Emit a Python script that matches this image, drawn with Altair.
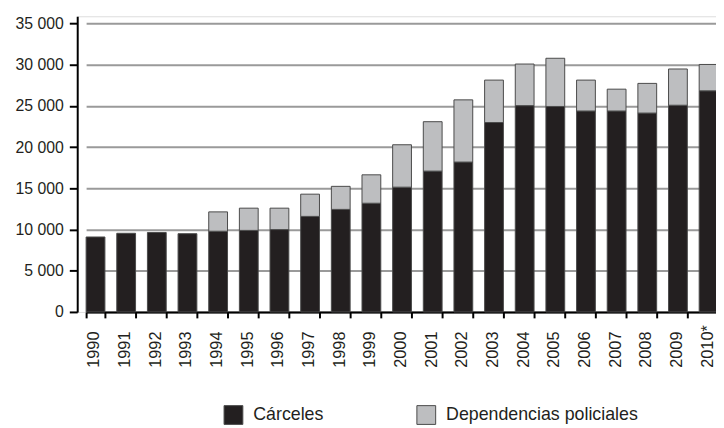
import altair as alt
import pandas as pd

years = ["1990", "1991", "1992", "1993", "1994", "1995", "1996", "1997", "1998", "1999",
         "2000", "2001", "2002", "2003", "2004", "2005", "2006", "2007", "2008", "2009", "2010*"]
carceles = [9100, 9550, 9650, 9500, 9800, 9900, 10000, 11600, 12450, 13200,
            15150, 17100, 18200, 23000, 25050, 24950, 24400, 24400, 24150, 25100, 26850]
policia = [0, 0, 0, 0, 2350, 2700, 2600, 2700, 2800, 3450,
           5150, 6000, 7550, 5150, 5050, 5850, 3750, 2650, 3600, 4400, 3200]
series = ["Cárceles", "Dependencias policiales"]
y_ticks = [0, 5000, 10000, 15000, 20000, 25000, 30000, 35000]

rows = []
for y, c, p in zip(years, carceles, policia):
    rows.append({"anio": y, "serie": series[0], "valor": c, "orden": 0})
    if p > 0:
        rows.append({"anio": y, "serie": series[1], "valor": p, "orden": 1})
df = pd.DataFrame(rows)

FONT = "Liberation Sans"

bars = alt.Chart(df).mark_bar(stroke="#4a4a4a", strokeWidth=1).encode(
    x=alt.X("anio:N", sort=years, title=None,
            scale=alt.Scale(range=[9, 648], paddingInner=0.387, paddingOuter=0),
            axis=alt.Axis(labelAngle=270, labelAlign="left", labelBaseline="middle",
                          labelPadding=50, labelOffset=-1.5, tickBand="extent", tickSize=6,
                          tickWidth=2, tickColor="black", domainColor="black", domainWidth=2,
                          labelFont=FONT, labelFontSize=16.5, labelColor="#231f20",
                          labelOverlap=False)),
    y=alt.Y("valor:Q", stack="zero", title=None,
            scale=alt.Scale(domain=[0, 35900], nice=False),
            axis=alt.Axis(values=y_ticks, tickSize=8, tickWidth=2, tickColor="black",
                          domainColor="black", domainWidth=2, grid=True,
                          gridColor="#9a9a9a", gridWidth=2, labelPadding=6,
                          labelFont=FONT, labelFontSize=16, labelColor="#231f20",
                          labelExpr="replace(format(datum.value, ','), ',', ' ')")),
    color=alt.Color("serie:N", sort=series,
                    scale=alt.Scale(domain=series, range=["#231f20", "#bdbec0"]),
                    legend=alt.Legend(title=None, orient="none", legendX=148, legendY=393,
                                      direction="horizontal", symbolType="square",
                                      symbolSize=361, symbolStrokeColor="#4a4a4a",
                                      symbolStrokeWidth=1, labelFont=FONT, labelFontSize=18,
                                      labelColor="#231f20", labelOffset=10, columnPadding=91,
                                      labelLimit=400, padding=0)),
    order=alt.Order("orden:Q", sort="ascending"),
)

chart = bars.properties(
    width=646, height=299,
    autosize=alt.AutoSizeParams(type="none"),
    padding={"left": 70, "top": 6, "right": 0, "bottom": 115},
).configure_view(stroke=None).configure(background="white")

chart.save("out.html", embed_options={"renderer": "svg", "actions": False})
